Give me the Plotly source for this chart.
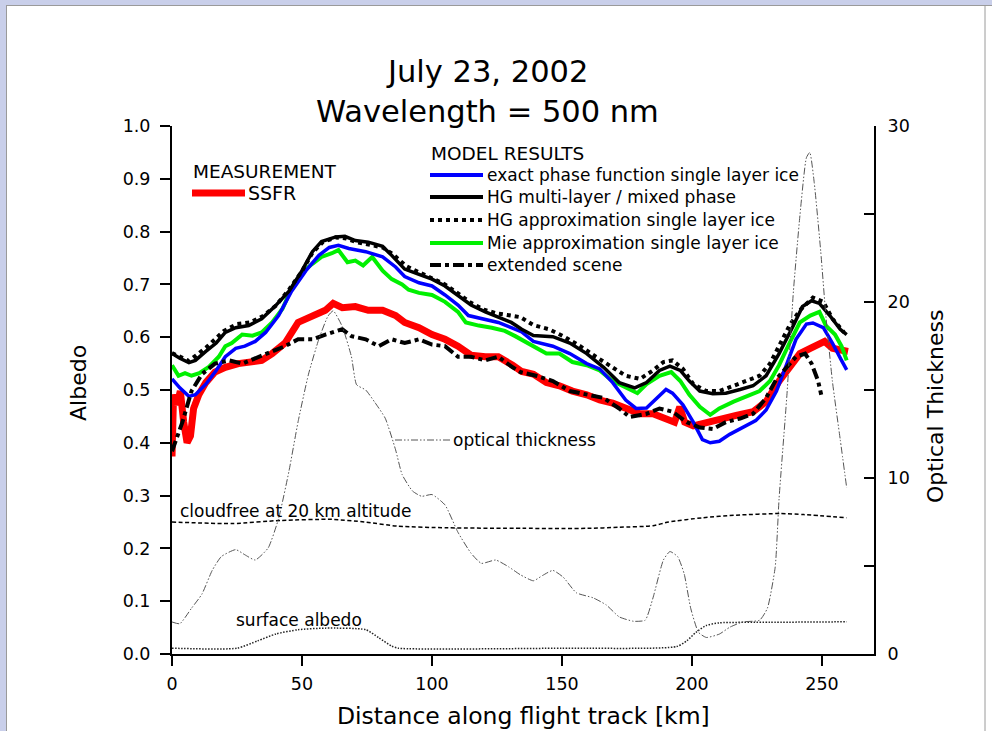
import plotly.graph_objects as go

# ---------------- data ----------------
hg_multi_x = [0, 3, 6.5, 9, 13, 17, 20.5, 24.5, 29.5, 34.5, 39.5, 45, 50, 54, 57.5, 63, 66.5, 70.5, 75.5, 81, 84.5,
              89.5, 95, 100, 105, 110, 115, 120.5, 125.5, 130.5, 134.5, 139, 146.5, 153, 159.5, 166, 172, 178, 182.5,
              187.5, 191.5, 195.5, 199, 203, 208, 213, 218.5, 223.5, 228.5, 233.5, 239, 242.5, 246, 249, 253, 257, 259.5]
hg_multi_y = [0.569, 0.560, 0.552, 0.556, 0.573, 0.589, 0.609, 0.618, 0.622, 0.635, 0.658, 0.687, 0.726, 0.762, 0.781,
              0.790, 0.791, 0.783, 0.780, 0.772, 0.755, 0.729, 0.719, 0.710, 0.697, 0.680, 0.661, 0.648, 0.638, 0.628,
              0.615, 0.603, 0.601, 0.589, 0.569, 0.543, 0.514, 0.504, 0.514, 0.537, 0.545, 0.537, 0.517, 0.498, 0.493,
              0.494, 0.501, 0.508, 0.527, 0.569, 0.622, 0.658, 0.669, 0.664, 0.641, 0.615, 0.605]

exact_x = [0, 3, 6.5, 9, 13, 17, 20.5, 24.5, 28, 32, 36, 41, 46, 51.5, 56.5, 60.5, 64, 68, 74.5, 81, 86, 89.5, 95, 100,
           105, 110, 114, 119, 125.5, 130.5, 134.5, 139, 146.5, 153, 159.5, 164.5, 169.5, 174.5, 178.5, 182.5, 186.5,
           190, 192.5, 196.5, 200.5, 204, 207, 210.5, 214.5, 219.5, 224.5, 228.5, 232.5, 236.5, 240, 244, 246.5, 250.5,
           254, 257.5, 259.5]
exact_y = [0.521, 0.504, 0.488, 0.491, 0.511, 0.537, 0.563, 0.579, 0.583, 0.592, 0.609, 0.641, 0.687, 0.726, 0.755,
           0.770, 0.774, 0.768, 0.762, 0.752, 0.733, 0.715, 0.703, 0.697, 0.680, 0.661, 0.641, 0.636, 0.628, 0.618,
           0.610, 0.592, 0.583, 0.569, 0.550, 0.540, 0.514, 0.481, 0.465, 0.466, 0.485, 0.501, 0.494, 0.472, 0.439,
           0.406, 0.400, 0.403, 0.416, 0.429, 0.442, 0.462, 0.498, 0.550, 0.596, 0.625, 0.627, 0.618, 0.589, 0.556,
           0.538]

mie_x = [0, 2.5, 5, 7.5, 10.5, 14, 18, 20.5, 23, 27, 31, 34.5, 38.5, 42.5, 46, 50, 54, 57.5, 61.5, 64, 67.5, 70.5, 73.5,
         77, 81, 84.5, 88.5, 91, 95, 100, 105, 110, 113, 118, 123, 128, 132, 134.5, 139, 144, 149, 154, 159.5, 164.5,
         169.5, 174.5, 179, 182.5, 187.5, 192, 195.5, 199, 203, 207, 210.5, 216, 221, 226, 230, 233.5, 237.5, 241.5,
         245.5, 249, 251.5, 255, 257.5, 259.5]
mie_y = [0.547, 0.527, 0.532, 0.527, 0.532, 0.543, 0.563, 0.583, 0.589, 0.605, 0.603, 0.609, 0.628, 0.654, 0.693, 0.723,
         0.739, 0.752, 0.759, 0.765, 0.742, 0.745, 0.736, 0.752, 0.726, 0.710, 0.700, 0.690, 0.684, 0.680, 0.667, 0.648,
         0.628, 0.622, 0.618, 0.612, 0.602, 0.595, 0.583, 0.569, 0.569, 0.553, 0.547, 0.537, 0.517, 0.504, 0.494,
         0.511, 0.527, 0.534, 0.517, 0.491, 0.468, 0.453, 0.465, 0.478, 0.488, 0.498, 0.517, 0.547, 0.589, 0.628,
         0.641, 0.648, 0.622, 0.605, 0.583, 0.556]

ssfr_x = [0, 0.6, 1.9, 3.2, 4.5, 5.8, 7.1, 8.3, 10.3, 13, 16.5, 20.5, 25.5, 31, 34.5, 38.5, 43.5, 48.5, 54, 59, 62, 65.5,
          70.5, 75.5, 81, 86, 89.5, 95, 100, 105, 110, 115, 120.5, 125.5, 131, 134.5, 139, 144, 149, 154, 159.5, 164.5,
          169.5, 174.5, 180, 185, 190, 193.3, 195.3, 197.2, 200.5, 205.5, 210.5, 217, 223.5, 228.5, 233.5, 237.5,
          241.5, 245.5, 249, 251, 254, 260]
ssfr_y = [0.374, 0.491, 0.472, 0.498, 0.439, 0.400, 0.413, 0.465, 0.491, 0.514, 0.534, 0.543, 0.550, 0.553, 0.556,
          0.569, 0.589, 0.628, 0.641, 0.651, 0.664, 0.656, 0.658, 0.651, 0.651, 0.641, 0.628, 0.618, 0.605, 0.596,
          0.583, 0.566, 0.563, 0.563, 0.547, 0.535, 0.530, 0.514, 0.508, 0.498, 0.491, 0.481, 0.475, 0.465, 0.455,
          0.455, 0.446, 0.439, 0.468, 0.439, 0.432, 0.439, 0.446, 0.452, 0.459, 0.478, 0.517, 0.543, 0.569, 0.579,
          0.586, 0.592, 0.579, 0.573]

ext_x = [0, 4, 7.5, 11.5, 16.5, 22, 27, 32, 37, 43.5, 48.5, 54, 59, 65.5, 69, 74.5, 79.5, 84.5, 89.5, 95, 100, 105, 110,
         115, 120.5, 125.5, 131, 134, 140, 146.5, 153, 159.5, 166, 172, 176, 182.5, 187.5, 192.5, 198, 203, 208, 213,
         218.5, 223.5, 228.5, 232.5, 236.5, 240, 243.5, 246, 248.5, 249.7]
ext_y = [0.384, 0.439, 0.498, 0.530, 0.550, 0.556, 0.550, 0.560, 0.569, 0.583, 0.596, 0.596, 0.605, 0.615, 0.602, 0.596,
         0.583, 0.596, 0.589, 0.596, 0.586, 0.583, 0.563, 0.563, 0.556, 0.563, 0.543, 0.534, 0.527, 0.517, 0.498,
         0.491, 0.485, 0.465, 0.449, 0.455, 0.465, 0.459, 0.439, 0.429, 0.426, 0.439, 0.446, 0.455, 0.485, 0.521,
         0.543, 0.563, 0.569, 0.550, 0.517, 0.491]

hg_approx_x = [0, 6.5, 13, 20, 25, 30, 35, 40, 45, 50, 54, 58, 63, 67, 71, 76, 81, 85, 90, 95, 100, 105, 110, 115, 120,
               125, 129, 134, 139, 145, 150.5, 157, 163, 169.5, 174.5, 180, 185, 189, 192.5, 196.5, 200.5, 205.5,
               210.5, 216, 221, 226, 230, 233.5, 237.5, 241.5, 246.5, 250.5, 254, 258.5]
hg_approx_y = [0.570, 0.555, 0.580, 0.612, 0.625, 0.628, 0.640, 0.660, 0.690, 0.725, 0.760, 0.780, 0.789, 0.787, 0.780,
               0.775, 0.770, 0.757, 0.735, 0.723, 0.712, 0.700, 0.683, 0.665, 0.652, 0.645, 0.642, 0.638, 0.623,
               0.615, 0.602, 0.583, 0.563, 0.543, 0.527, 0.521, 0.537, 0.553, 0.556, 0.540, 0.511, 0.498, 0.498,
               0.508, 0.517, 0.527, 0.550, 0.583, 0.622, 0.651, 0.675, 0.667, 0.635, 0.609]

tau_x = [0, 3, 7.5, 11.5, 15.5, 19, 24.5, 28, 32, 37, 41, 45, 48.5, 52.5, 56.5, 60, 62, 65.5, 69, 71, 74.5, 78, 82, 86,
         88.5, 92.5, 96, 100, 105, 110, 115, 119, 124.5, 129.5, 134, 139, 142.5, 146.5, 150.5, 155.5, 162, 167, 172,
         177.5, 182, 185, 189, 191.5, 194.5, 197, 199.5, 202.5, 205.5, 210.5, 214.5, 219.5, 226, 229, 232, 233.5,
         236.5, 239, 241.5, 244, 245.3, 247, 249.5, 251.5, 254, 257, 259.5]
tau_y = [1.82, 1.72, 2.6, 3.4, 4.76, 5.54, 5.93, 5.64, 5.34, 6.03, 7.7, 10.4, 13.2, 15.9, 17.9, 19.2, 19.5, 18.6, 16.9,
         15.3, 15.0, 14.3, 13.4, 11.6, 10.2, 9.26, 8.96, 9.06, 8.47, 6.91, 5.73, 5.15, 5.34, 4.95, 4.5, 4.16, 4.46,
         4.75, 4.36, 3.48, 3.19, 2.79, 2.11, 1.86, 1.92, 3.19, 5.34, 5.82, 5.53, 4.55, 2.6, 1.23, 0.94, 1.13, 1.52,
         1.82, 1.92, 2.6, 4.94, 8.85, 14.7, 20.6, 24.9, 28.2, 28.5, 26.8, 22.9, 19.2, 15.5, 12.2, 9.44]

cloudfree_x = [0, 23, 42, 61.5, 74, 87, 106, 135, 160, 172, 185, 191, 204, 217, 234, 243, 259.5]
cloudfree_y = [0.250, 0.247, 0.253, 0.255, 0.250, 0.242, 0.239, 0.238, 0.238, 0.240, 0.243, 0.250, 0.258, 0.263, 0.266,
               0.264, 0.258]

surface_x = [0, 25, 33, 40, 48.5, 59, 74.5, 79.5, 84.5, 87, 150, 194, 198, 201.5, 205.5, 210.5, 230, 259.5]
surface_y = [0.011, 0.011, 0.025, 0.038, 0.046, 0.049, 0.046, 0.031, 0.015, 0.011, 0.011, 0.014, 0.025, 0.041, 0.054,
             0.059, 0.060, 0.061]

x_ticks = [0, 50, 100, 150, 200, 250]
y_ticks = [0.0, 0.1, 0.2, 0.3, 0.4, 0.5, 0.6, 0.7, 0.8, 0.9, 1.0]
y2_ticks = [0, 5, 10, 15, 20, 25, 30]
y2_labels = ["0", "", "10", "", "20", "", "30"]

model_labels = ["exact phase function single layer ice", "HG multi-layer / mixed phase",
                "HG approximation single layer ice", "Mie approximation single layer ice", "extended scene"]

# ---------------- layout geometry ----------------
W, H = 992, 731
L, R, T, B = 172, 874, 126, 654   # plot area in pixels


def px(x):
    return (x - L) / (R - L)


def py(y):
    return (B - y) / (B - T)


FONT = "DejaVu Sans"
BLACK = "#000000"
TAU_DASH = "7px,2px,1.5px,2px,1.5px,2px"
DOT_DASH = "4px,4px"
EXT_DASH = "11px,4px,4px,4px"

fig = go.Figure()

fig.add_trace(go.Scatter(x=tau_x, y=tau_y, yaxis="y2", mode="lines",
                         line=dict(color="#555555", width=1, dash=TAU_DASH, shape="spline", smoothing=0.5)))
fig.add_trace(go.Scatter(x=cloudfree_x, y=cloudfree_y, mode="lines",
                         line=dict(color=BLACK, width=1.5, dash="4px,2.5px", shape="spline", smoothing=0.6)))
fig.add_trace(go.Scatter(x=surface_x, y=surface_y, mode="lines",
                         line=dict(color="#222222", width=1.5, dash="1.5px,1.5px", shape="spline", smoothing=0.6)))
fig.add_trace(go.Scatter(x=ssfr_x, y=ssfr_y, mode="lines", line=dict(color="#FF0000", width=7)))
fig.add_trace(go.Scatter(x=mie_x, y=mie_y, mode="lines", line=dict(color="#00F000", width=4)))
fig.add_trace(go.Scatter(x=exact_x, y=exact_y, mode="lines", line=dict(color="#0000FF", width=3.5)))
fig.add_trace(go.Scatter(x=hg_multi_x, y=hg_multi_y, mode="lines", line=dict(color=BLACK, width=3.5)))
fig.add_trace(go.Scatter(x=hg_approx_x, y=hg_approx_y, mode="lines", line=dict(color=BLACK, width=4, dash=DOT_DASH)))
fig.add_trace(go.Scatter(x=ext_x, y=ext_y, mode="lines", line=dict(color=BLACK, width=4, dash=EXT_DASH)))

shapes = []
annotations = []


def line_shape(x0, x1, y, color, width, dash="solid"):
    shapes.append(dict(type="line", xref="paper", yref="paper", x0=px(x0), x1=px(x1), y0=py(y), y1=py(y),
                       line=dict(color=color, width=width, dash=dash)))


def text(s, x, y, size, xanchor="left", angle=0):
    annotations.append(dict(text=s, x=px(x), y=py(y), xref="paper", yref="paper", xanchor=xanchor,
                            yanchor="middle", showarrow=False, textangle=angle,
                            font=dict(family=FONT, size=size, color=BLACK)))


# legend blocks
text("MEASUREMENT", 191, 171, 18.5)
line_shape(192, 245, 193, "#FF0000", 7)
text("SSFR", 246, 193, 19)

text("MODEL RESULTS", 429, 153, 18.5)
leg_styles = [("#0000FF", 4, "solid"), (BLACK, 4, "solid"), (BLACK, 4, DOT_DASH), ("#00F000", 4, "solid"),
              (BLACK, 4, EXT_DASH)]
leg_y = [175, 197, 220, 243, 265]
for lab, (c, w, d), yy in zip(model_labels, leg_styles, leg_y):
    line_shape(430, 483, yy, c, w, d)
    text(lab, 485, yy, 17)

# in-plot labels
line_shape(395, 450, 440, "#555555", 1, TAU_DASH)
text("optical thickness", 451, 440, 17)
text("cloudfree at 20 km altitude", 178, 511, 17)
text("surface albedo", 234, 620, 17)

# titles
text("July 23, 2002", 487, 72, 30.5, "center")
text("Wavelength = 500 nm", 487, 112, 30.5, "center")
text("Distance along flight track [km]", 523, 716, 23.5, "center")
text("Albedo", 78, 383, 22, "center", -90)
text("Optical Thickness", 935, 407, 22, "center", -90)

# window frame
FRAME = "#C9CFEA"
shapes.append(dict(type="rect", xref="paper", yref="paper", x0=px(0), x1=px(W), y0=py(0), y1=py(5),
                   fillcolor=FRAME, line=dict(width=0), layer="below"))
shapes.append(dict(type="rect", xref="paper", yref="paper", x0=px(0), x1=px(6), y0=py(0), y1=py(H),
                   fillcolor=FRAME, line=dict(width=0), layer="below"))
shapes.append(dict(type="line", xref="paper", yref="paper", x0=px(6), x1=px(W), y0=py(5.5), y1=py(5.5),
                   line=dict(color="#9A9A9A", width=1)))
shapes.append(dict(type="line", xref="paper", yref="paper", x0=px(6.5), x1=px(6.5), y0=py(5.5), y1=py(H),
                   line=dict(color="#9A9A9A", width=1)))
shapes.append(dict(type="line", xref="paper", yref="paper", x0=px(985), x1=px(985), y0=py(5.5), y1=py(H),
                   line=dict(color="#9A9A9A", width=1)))

tickfont = dict(family=FONT, size=17.5, color=BLACK)
fig.update_layout(
    width=W, height=H,
    margin=dict(l=L, r=W - R, t=T, b=H - B, pad=0),
    paper_bgcolor="white", plot_bgcolor="white",
    showlegend=False,
    shapes=shapes, annotations=annotations,
    xaxis=dict(range=[0, 270], tickvals=x_ticks, ticks="outside", ticklen=10, tickwidth=2, tickcolor=BLACK,
               showline=True, linewidth=2, linecolor=BLACK, showgrid=False, zeroline=False,
               tickfont=tickfont, ticklabelstandoff=3),
    yaxis=dict(range=[0, 1], tickvals=y_ticks, tickformat=".1f", ticks="outside", ticklen=10, tickwidth=2,
               tickcolor=BLACK, showline=True, linewidth=2, linecolor=BLACK, showgrid=False, zeroline=False,
               tickfont=tickfont, ticklabelstandoff=6),
    yaxis2=dict(range=[0, 30], overlaying="y", side="right", tickvals=y2_ticks, ticktext=y2_labels,
                ticks="inside", ticklen=10, tickwidth=2, tickcolor=BLACK, showline=True, linewidth=2,
                linecolor=BLACK, showgrid=False, zeroline=False, tickfont=tickfont, ticklabelstandoff=8),
)

fig.write_html("out.html")
